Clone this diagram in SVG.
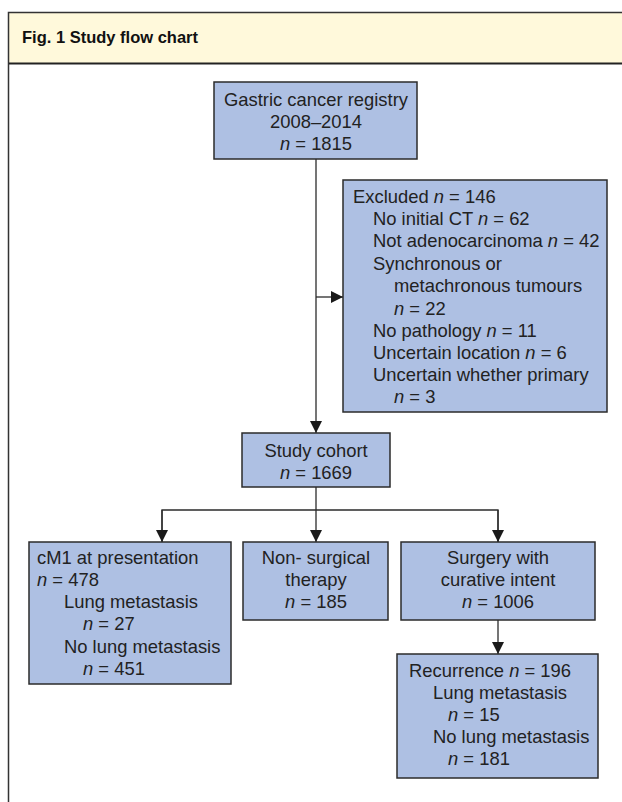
<svg xmlns="http://www.w3.org/2000/svg" width="622" height="802" viewBox="0 0 622 802">
<style>
.box{fill:#aec0e3;stroke:#2b2b2b;stroke-width:1.5}
.t{font-family:"Liberation Sans",Arial,sans-serif;font-size:18.4px;fill:#222}
.c{text-anchor:middle}
.i{font-style:italic}
.conn{stroke:#2b2b2b;stroke-width:1.3;fill:none}
.title{font-family:"Liberation Sans",Arial,sans-serif;font-size:16.5px;font-weight:bold;fill:#111}
</style>
<defs>
<marker id="ah" markerUnits="userSpaceOnUse" markerWidth="12" markerHeight="12" refX="12" refY="6" orient="auto">
<path d="M0,0 L12,6 L0,12 z" fill="#1a1a1a"/>
</marker>
</defs>
<rect x="0" y="0" width="622" height="802" fill="#ffffff"/>
<g id="frame">
<rect x="9" y="13" width="613" height="50" fill="#fff9db"/>
<path d="M8.5,802 V12.5 H622" fill="none" stroke="#333" stroke-width="1.5"/>
<line x1="9" y1="63.5" x2="622" y2="63.5" stroke="#222" stroke-width="2"/>
<text class="title" x="22" y="43">Fig. 1 Study flow chart</text>
</g>
<g id="connectors">
<line class="conn" x1="316" y1="159" x2="316" y2="433" marker-end="url(#ah)"/>
<line class="conn" x1="316" y1="297" x2="343" y2="297" marker-end="url(#ah)"/>
<line class="conn" x1="316" y1="487" x2="316" y2="542" marker-end="url(#ah)"/>
<path class="conn" d="M162,542 V510 H498 V542"/>
<line class="conn" x1="162" y1="510" x2="162" y2="542" marker-end="url(#ah)"/>
<line class="conn" x1="498" y1="510" x2="498" y2="542" marker-end="url(#ah)"/>
<line class="conn" x1="498" y1="620" x2="498" y2="654" marker-end="url(#ah)"/>
</g>
<g id="registry">
<rect class="box" x="214" y="82" width="203" height="77"/>
<text class="t c" x="316" y="106">Gastric cancer registry</text>
<text class="t c" x="316" y="128">2008–2014</text>
<text class="t c" x="316" y="150"><tspan class="i">n</tspan> = 1815</text>
</g>
<g id="excluded">
<rect class="box" x="343" y="180" width="264" height="232"/>
<text class="t" x="353" y="203">Excluded <tspan class="i">n</tspan> = 146</text>
<text class="t" x="373" y="225">No initial CT <tspan class="i">n</tspan> = 62</text>
<text class="t" x="373" y="247">Not adenocarcinoma <tspan class="i">n</tspan> = 42</text>
<text class="t" x="373" y="270">Synchronous or</text>
<text class="t" x="394" y="292">metachronous tumours</text>
<text class="t" x="394" y="315"><tspan class="i">n</tspan> = 22</text>
<text class="t" x="373" y="337">No pathology <tspan class="i">n</tspan> = 11</text>
<text class="t" x="373" y="359">Uncertain location <tspan class="i">n</tspan> = 6</text>
<text class="t" x="373" y="381">Uncertain whether primary</text>
<text class="t" x="394" y="403"><tspan class="i">n</tspan> = 3</text>
</g>
<g id="cohort">
<rect class="box" x="242" y="433" width="148" height="54"/>
<text class="t c" x="316" y="457">Study cohort</text>
<text class="t c" x="316" y="479"><tspan class="i">n</tspan> = 1669</text>
</g>
<g id="cm1">
<rect class="box" x="29" y="542" width="202" height="142"/>
<text class="t" x="37" y="564">cM1 at presentation</text>
<text class="t" x="37" y="586"><tspan class="i">n</tspan> = 478</text>
<text class="t" x="64" y="608">Lung metastasis</text>
<text class="t" x="83" y="630"><tspan class="i">n</tspan> = 27</text>
<text class="t" x="64" y="653">No lung metastasis</text>
<text class="t" x="83" y="675"><tspan class="i">n</tspan> = 451</text>
</g>
<g id="nonsurgical">
<rect class="box" x="243" y="542" width="145" height="78"/>
<text class="t c" x="316" y="564">Non- surgical</text>
<text class="t c" x="316" y="586">therapy</text>
<text class="t c" x="316" y="608"><tspan class="i">n</tspan> = 185</text>
</g>
<g id="surgery">
<rect class="box" x="401" y="542" width="194" height="78"/>
<text class="t c" x="498" y="564">Surgery with</text>
<text class="t c" x="498" y="586">curative intent</text>
<text class="t c" x="498" y="608"><tspan class="i">n</tspan> = 1006</text>
</g>
<g id="recurrence">
<rect class="box" x="397" y="654" width="201" height="124"/>
<text class="t" x="409" y="677">Recurrence <tspan class="i">n</tspan> = 196</text>
<text class="t" x="433" y="699">Lung metastasis</text>
<text class="t" x="448" y="721"><tspan class="i">n</tspan> = 15</text>
<text class="t" x="433" y="743">No lung metastasis</text>
<text class="t" x="448" y="765"><tspan class="i">n</tspan> = 181</text>
</g>
</svg>
